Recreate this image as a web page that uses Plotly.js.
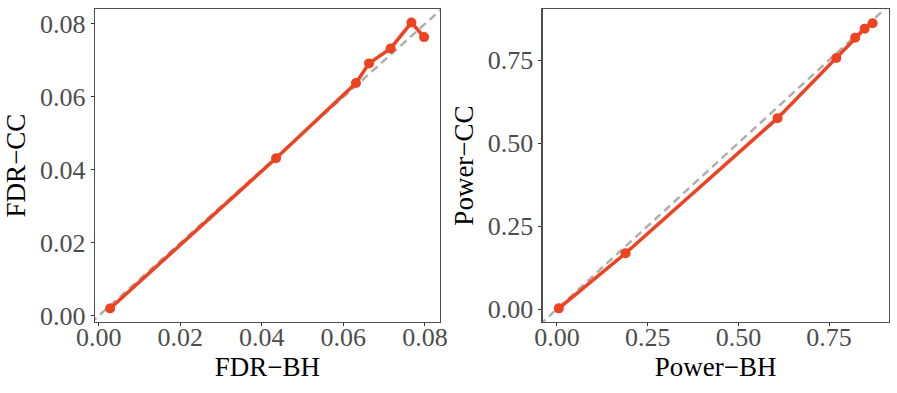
<!DOCTYPE html>
<html>
<head>
<meta charset="utf-8">
<script src="https://cdn.plot.ly/plotly-3.0.1.min.js"></script>
<style>
  html, body { margin: 0; padding: 0; background: #fff; }
  #grafico { width: 897px; height: 393px; }
</style>
</head>
<body>
<div id="grafico"></div>
<script>
// FDR panel
let fdrBH = [0.0028, 0.0435, 0.0631, 0.0663, 0.0716, 0.0767, 0.0798];
let fdrCC = [0.0020, 0.0432, 0.0638, 0.0692, 0.0733, 0.0804, 0.0764];
// Power panel
let powerBH = [0.005, 0.189, 0.608, 0.770, 0.822, 0.848, 0.870];
let powerCC = [0.002, 0.168, 0.575, 0.756, 0.817, 0.844, 0.861];

let rangoFdr = [-0.0009, 0.0837];
let rangoFdrY = [-0.0017, 0.0841];
let rangoPowerX = [-0.0394, 0.9145];
let rangoPowerY = [-0.039, 0.9036];

let ticksFdr = [0, 0.02, 0.04, 0.06, 0.08];
let ticksPower = [0, 0.25, 0.5, 0.75];

let colorLinea = '#EE4220';

let diagonal1 = {
	x: [-1, 1], y: [-1, 1],
	xaxis: 'x', yaxis: 'y',
	type: 'scatter', mode: 'lines',
	line: {color: '#AFAFAF', width: 2.5, dash: '8px,5px'},
	hoverinfo: 'skip'
}
let curva1 = {
	x: fdrBH, y: fdrCC,
	xaxis: 'x', yaxis: 'y',
	type: 'scatter', mode: 'lines+markers',
	line: {color: colorLinea, width: 3.5},
	marker: {color: colorLinea, size: 10}
}
let diagonal2 = {
	x: [-1, 1], y: [-1, 1],
	xaxis: 'x2', yaxis: 'y2',
	type: 'scatter', mode: 'lines',
	line: {color: '#AFAFAF', width: 2.5, dash: '8px,5px'},
	hoverinfo: 'skip'
}
let curva2 = {
	x: powerBH, y: powerCC,
	xaxis: 'x2', yaxis: 'y2',
	type: 'scatter', mode: 'lines+markers',
	line: {color: colorLinea, width: 3.5},
	marker: {color: colorLinea, size: 10}
}

let serif = "'Liberation Serif', 'Times New Roman', Times, serif";
let fuenteTick = {family: serif, size: 26, color: '#4D4D4D'};
let fuenteTitulo = {family: serif, size: 27, color: '#000000'};

function eje(dominio, rango, valores, textos, titulo, ancla, standoff, separacion) {
	return {
		domain: dominio,
		range: rango,
		anchor: ancla,
		tickvals: valores,
		ticktext: textos,
		tickfont: fuenteTick,
		ticks: 'outside',
		ticklen: 3,
		tickwidth: 1,
		tickcolor: '#333333',
		ticklabelstandoff: separacion,
		showgrid: false,
		zeroline: false,
		showline: true,
		mirror: true,
		linecolor: '#4D4D4D',
		linewidth: 1.2,
		automargin: false,
		title: {text: titulo, font: fuenteTitulo, standoff: standoff}
	}
}

let layout = {
	width: 897,
	height: 393,
	margin: {l: 0, r: 0, t: 0, b: 0},
	paper_bgcolor: '#ffffff',
	plot_bgcolor: '#ffffff',
	showlegend: false,
	xaxis: eje([0.1059, 0.4905], rangoFdr, ticksFdr, ticksFdr.map(v => v.toFixed(2)), 'FDR\u2212BH', 'y', 3, -11),
	yaxis: eje([0.1807, 0.977], rangoFdrY, ticksFdr, ticksFdr.map(v => v.toFixed(2)), 'FDR\u2212CC', 'x', 6, 0),
	xaxis2: eje([0.605, 0.9908], rangoPowerX, ticksPower, ticksPower.map(v => v.toFixed(2)), 'Power\u2212BH', 'y2', 3, -11),
	yaxis2: eje([0.1807, 0.977], rangoPowerY, ticksPower, ticksPower.map(v => v.toFixed(2)), 'Power\u2212CC', 'x2', 6, 0)
}

let contenedor = document.getElementById('grafico');
Plotly.newPlot(contenedor, [diagonal1, curva1, diagonal2, curva2], layout, {displayModeBar: false, staticPlot: true});
</script>
</body>
</html>
